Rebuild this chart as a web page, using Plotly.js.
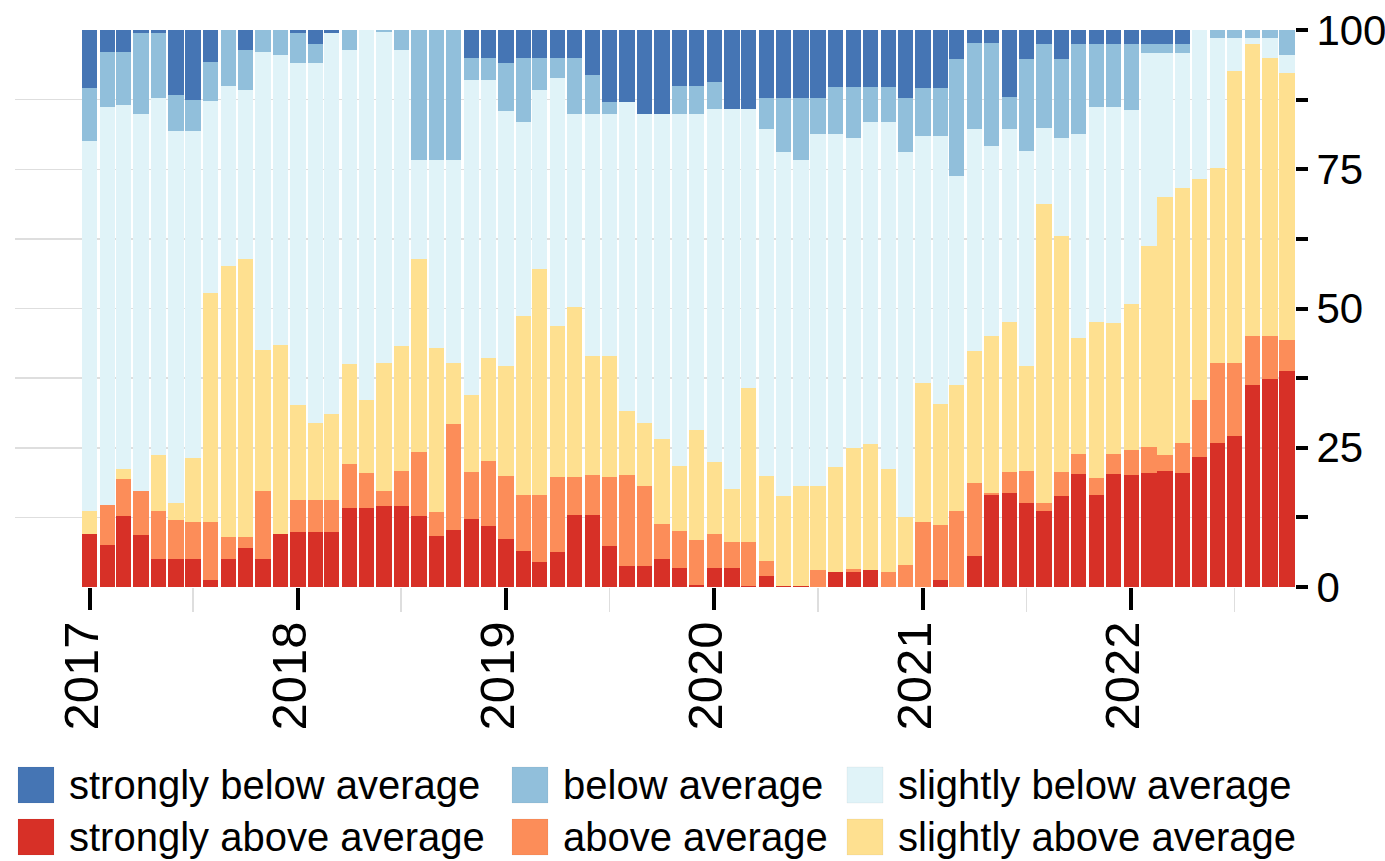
<!DOCTYPE html>
<html>
<head>
<meta charset="utf-8">
<script src="https://cdn.plot.ly/plotly-3.0.1.min.js"></script>
<style>html,body{margin:0;padding:0;background:#fff;}#chart{width:1385px;height:861px;}</style>
</head>
<body>
<div id="chart"></div>
<script>
const months = [
 '2017-01','2017-02','2017-03','2017-04','2017-05','2017-06','2017-07','2017-08','2017-09','2017-10','2017-11','2017-12',
 '2018-01','2018-02','2018-03','2018-04','2018-05','2018-06','2018-07','2018-08','2018-09','2018-10','2018-11','2018-12',
 '2019-01','2019-02','2019-03','2019-04','2019-05','2019-06','2019-07','2019-08','2019-09','2019-10','2019-11','2019-12',
 '2020-01','2020-02','2020-03','2020-04','2020-05','2020-06','2020-07','2020-08','2020-09','2020-10','2020-11','2020-12',
 '2021-01','2021-02','2021-03','2021-04','2021-05','2021-06','2021-07','2021-08','2021-09','2021-10','2021-11','2021-12',
 '2022-01','2022-02','2022-03','2022-04','2022-05','2022-06','2022-07','2022-08','2022-09','2022-10'];

const stronglyAbove = [9.5,7.5,12.8,9.3,5.1,5.1,5.1,1.3,5.1,7.0,5.1,9.6,
 9.9,9.9,9.9,14.1,14.1,14.5,14.5,12.8,9.2,10.2,12.2,10.9,
 8.6,6.5,4.5,6.2,13.0,13.0,7.3,3.8,3.8,5.1,3.5,0.3,
 3.5,3.5,0.2,1.9,0.2,0.2,0,2.7,2.7,3.0,0,0,
 0,1.3,0,5.6,16.5,16.9,15.1,13.6,16.4,20.3,16.6,20.3,
 20.1,20.5,20.9,20.5,23.3,25.9,27.2,36.2,37.4,38.7];

const above = [0,7.3,6.6,8.0,8.5,6.9,6.5,10.3,3.9,2.0,12.2,0,
 5.8,5.8,5.8,8.0,6.4,2.8,6.4,11.5,4.3,19.0,8.5,11.7,
 11.3,10.0,12.0,13.6,6.8,7.1,12.5,16.3,14.3,6.3,6.5,8.1,
 6.1,4.6,7.8,2.8,0,0,3.0,0,0.6,0,2.7,4.0,
 11.6,9.9,13.6,13.0,0.4,3.8,5.8,1.5,4.3,3.6,2.9,3.6,
 4.5,4.6,2.8,5.4,10.3,14.3,13.0,8.8,7.6,5.7];

const slightlyAbove = [4.1,0,1.7,0,10.1,3.1,11.5,41.1,48.6,49.9,25.2,33.9,
 16.9,13.7,15.4,18.0,13.1,22.9,22.3,34.6,29.4,11.1,13.7,18.5,
 19.8,32.1,40.6,27.0,30.4,21.4,21.7,11.5,11.3,15.2,11.7,19.7,
 12.9,9.5,27.7,15.2,16.1,17.9,15.1,18.9,21.7,22.7,18.4,8.6,
 25.1,21.7,22.7,23.8,28.1,26.8,18.8,53.7,42.3,20.8,28.1,23.5,
 26.2,36.2,46.3,45.7,39.6,35.0,52.5,52.5,50.0,47.8];

const slightlyBelow = [66.5,71.4,65.4,67.6,64.1,66.8,58.8,34.5,32.3,30.3,53.5,52.0,
 61.4,64.6,68.4,56.4,66.4,59.5,53.3,17.7,33.7,36.3,56.6,49.9,
 45.7,34.8,32.1,44.6,34.7,43.4,43.4,55.4,55.5,58.3,63.2,56.8,
 63.3,68.2,50.1,62.3,61.8,58.5,63.3,59.8,55.7,57.7,62.3,65.5,
 44.2,48.0,37.5,39.8,34.2,34.7,38.5,13.6,17.7,36.6,38.6,38.8,
 34.9,34.6,25.9,24.3,26.8,23.3,5.8,1.0,3.5,3.3];

const below = [9.4,9.8,9.5,14.6,11.7,6.5,5.6,7.0,10.1,7.3,4.0,4.5,
 5.5,3.5,0,3.5,0,0.3,3.5,23.4,23.4,23.4,4.0,4.0,
 8.6,11.6,5.8,3.6,10.1,7.1,2.1,0,0,0,5.0,5.0,
 4.8,0,0,5.6,9.7,11.2,6.4,8.4,9.1,6.4,6.4,9.7,
 8.6,8.6,21.0,15.5,18.5,5.8,16.6,15.1,14.1,16.2,11.3,11.3,
 11.8,1.6,1.6,1.6,0,1.5,1.5,1.5,1.5,4.5];

const stronglyBelow = [10.5,4.0,4.0,0.5,0.5,11.6,12.5,5.8,0,3.5,0,0,
 0.5,2.5,0.5,0,0,0,0,0,0,0,5.0,5.0,
 6.0,5.0,5.0,5.0,5.0,8.0,13.0,13.0,15.1,15.1,10.1,10.1,
 9.4,14.2,14.2,12.2,12.2,12.2,12.2,10.2,10.2,10.2,10.2,12.2,
 10.5,10.5,5.2,2.3,2.3,12.0,5.2,2.5,5.2,2.5,2.5,2.5,
 2.5,2.5,2.5,2.5,0,0,0,0,0,0];

const yTickVals = [0, 25, 50, 75, 100];
const yTickText = ['0', '25', '50', '75', '100'];

// stacking order bottom -> top
const seriesNames = ['strongly above average','above average','slightly above average',
                     'slightly below average','below average','strongly below average'];
const seriesValues = [stronglyAbove, above, slightlyAbove, slightlyBelow, below, stronglyBelow];
const seriesColors = ['#d73027','#fc8d59','#fee090','#e0f3f8','#91bfdb','#4575b4'];

const traces = seriesNames.map((n, i) => ({
  type: 'bar', name: n, x: months, y: seriesValues[i],
  marker: {color: seriesColors[i], line: {width: 0}},
  showlegend: false, hoverinfo: 'x+y+name'
}));

const FONT = 'Arial, "Liberation Sans", sans-serif';

// custom legend (swatches + labels), laid out in two rows of three
const legendOrder = [
  ['strongly below average', 0, 0], ['below average', 1, 0], ['slightly below average', 2, 0],
  ['strongly above average', 0, 1], ['above average', 1, 1], ['slightly above average', 2, 1]
];
const colX = [3, 497, 832];
const rowTop = [-180, -232];
const SW = 36;
const shapes = [], annotations = [];
legendOrder.forEach(([name, c, r]) => {
  const col = seriesColors[seriesNames.indexOf(name)];
  shapes.push({type: 'rect', xref: 'paper', yref: 'paper', xsizemode: 'pixel', ysizemode: 'pixel',
    xanchor: 0, yanchor: 0, x0: colX[c], x1: colX[c] + SW, y0: rowTop[r], y1: rowTop[r] - SW,
    fillcolor: col, line: {width: 0.5, color: 'rgba(0,0,0,0.08)'}, layer: 'above'});
  annotations.push({xref: 'paper', yref: 'paper', x: 0, y: 0, xanchor: 'left', yanchor: 'middle',
    xshift: colX[c] + 49, yshift: rowTop[r] - SW / 2, text: name, showarrow: false,
    font: {family: FONT, size: 40, color: '#000'}});
});

const layout = {
  width: 1385, height: 861,
  margin: {l: 15, r: 90, t: 30, b: 274},
  paper_bgcolor: '#fff', plot_bgcolor: '#fff',
  barmode: 'stack', bargap: 0.04,
  showlegend: false,
  font: {family: FONT, color: '#000'},
  xaxis: {
    type: 'date', range: ['2016-08-23', '2022-10-15'],
    tick0: '2017-01-01', dtick: 'M12', tickformat: '%Y', tickangle: -90,
    ticks: 'outside', ticklen: 22, tickwidth: 4, tickcolor: '#000',
    ticklabelstandoff: -8, ticklabelshift: -8,
    tickfont: {family: FONT, size: 49, color: '#000'},
    showgrid: true, gridcolor: '#dedede', gridwidth: 1.5,
    minor: {dtick: 'M6', ticks: 'outside', ticklen: 24, tickwidth: 1.5, tickcolor: '#dedede',
            showgrid: true, gridcolor: '#dedede', gridwidth: 1.5},
    showline: false, zeroline: false, automargin: false, fixedrange: true
  },
  yaxis: {
    side: 'right', range: [0, 100],
    tickmode: 'array', tickvals: yTickVals, ticktext: yTickText,
    ticks: 'outside', ticklen: 12, tickwidth: 4, tickcolor: '#000',
    tickfont: {family: FONT, size: 42, color: '#000'},
    showgrid: true, gridcolor: '#dedede', gridwidth: 1.5,
    minor: {dtick: 12.5, tick0: 0, ticks: 'outside', ticklen: 12, tickwidth: 4, tickcolor: '#000',
            showgrid: true, gridcolor: '#dedede', gridwidth: 1.5},
    showline: false, zeroline: false, automargin: false, fixedrange: true
  },
  shapes: shapes,
  annotations: annotations
};

Plotly.newPlot('chart', traces, layout, {displayModeBar: false, staticPlot: true});
</script>
</body>
</html>
